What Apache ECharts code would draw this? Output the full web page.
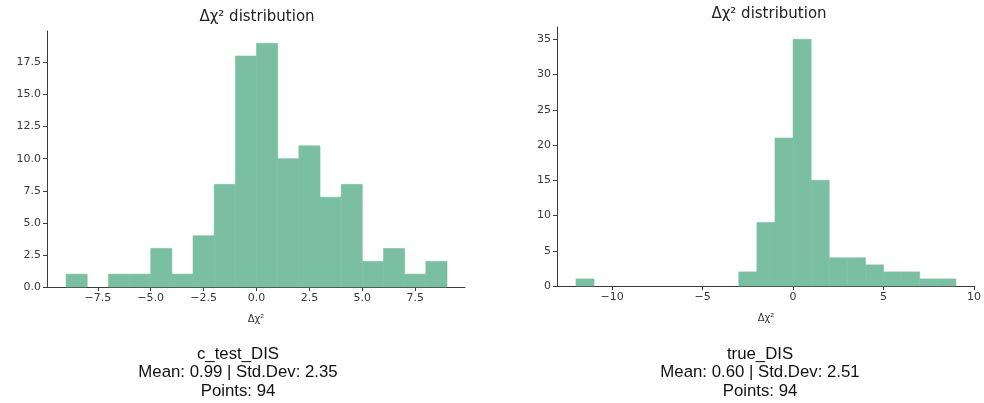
<!DOCTYPE html>
<html><head><meta charset="utf-8">
<script src="https://cdn.jsdelivr.net/npm/echarts@6/dist/echarts.min.js"></script>
<style>html,body{margin:0;padding:0;background:#fff}#c{width:984px;height:403px}</style>
</head><body><div id="c"></div>
<script>
// Left histogram: c_test_DIS (bin left edges, width 1)
const leftBinStarts = [-9,-8,-7,-6,-5,-4,-3,-2,-1,0,1,2,3,4,5,6,7,8];
const leftCounts    = [1,0,1,1,3,1,4,8,18,19,10,11,7,8,2,3,1,2];
// Right histogram: true_DIS
const rightBinStarts = [-12,-11,-10,-9,-8,-7,-6,-5,-4,-3,-2,-1,0,1,2,3,4,5,6,7,8];
const rightCounts    = [1,0,0,0,0,0,0,0,0,2,9,21,35,15,4,4,3,2,2,1,1];
const binWidth = 1;
const leftXTicks = [-7.5,-5,-2.5,0,2.5,5,7.5];
const leftYTicks = [0,2.5,5,7.5,10,12.5,15,17.5];
const rightXTicks = [-10,-5,0,5,10];
const rightYTicks = [0,5,10,15,20,25,30,35];
const titles = ['Δχ² distribution','Δχ² distribution'];
const xName = 'Δχ²';
const leftInfo = ['c_test_DIS','Mean: 0.99 | Std.Dev: 2.35','Points: 94'];
const rightInfo = ['true_DIS','Mean: 0.60 | Std.Dev: 2.51','Points: 94'];

const FONT = 'DejaVu Sans';
const AX = '#3a3a3a';
const BAR = '#7bbfa3';
const minus = v => String(v).replace('-', '\u2212');

function histData(starts, counts){
  return starts.map((s,i)=>[s, s+binWidth, counts[i]]);
}
function renderBar(params, api){
  const lo = api.value(0), hi = api.value(1), c = api.value(2);
  if (!c) return null;
  const p0 = api.coord([lo, c]);
  const p1 = api.coord([hi, 0]);
  return {type:'rect', shape:{x:p0[0], y:p0[1], width:p1[0]-p0[0], height:p1[1]-p0[1]},
          style:{fill:BAR, stroke:BAR, lineWidth:0.6}};
}
function xAxis(idx, min, max, ticks, fmt){
  return {type:'value', gridIndex:idx, min, max,
    name:xName, nameLocation:'middle', nameGap:27,
    nameTextStyle:{fontFamily:FONT, fontSize:10, color:'#333'},
    axisLine:{show:true, onZero:false, lineStyle:{color:AX, width:1}},
    axisTick:{show:true, length:4, customValues:ticks, lineStyle:{color:AX}},
    axisLabel:{customValues:ticks, formatter:fmt, fontFamily:FONT, fontSize:11, color:'#3a3a3a', margin:6},
    splitLine:{show:false}};
}
function yAxis(idx, min, max, ticks, fmt){
  return {type:'value', gridIndex:idx, min, max,
    axisLine:{show:true, onZero:false, lineStyle:{color:AX, width:1}},
    axisTick:{show:true, length:4, customValues:ticks, lineStyle:{color:AX}},
    axisLabel:{customValues:ticks, formatter:fmt, fontFamily:FONT, fontSize:11, color:'#3a3a3a', margin:6},
    splitLine:{show:false}};
}
const infoStyle = {fontFamily:'Liberation Sans', fontSize:16.8, fontWeight:'normal', color:'#111', lineHeight:18.5};
const titleStyle = {fontFamily:FONT, fontSize:15, fontWeight:'normal', color:'#222'};

const chart = echarts.init(document.getElementById('c'), null, {renderer:'canvas'});
chart.setOption({
  animation:false,
  backgroundColor:'#fff',
  title:[
    {text:titles[0], left:252, top:5, textAlign:'center', textStyle:titleStyle},
    {text:titles[1], left:764, top:2, textAlign:'center', textStyle:titleStyle},
    {text:leftInfo.join('\n'), left:233, top:340, textAlign:'center', textStyle:infoStyle},
    {text:rightInfo.join('\n'), left:755, top:340, textAlign:'center', textStyle:infoStyle}
  ],
  grid:[
    {left:47, top:31, width:418, height:256},
    {left:557, top:27, width:423, height:259}
  ],
  xAxis:[
    xAxis(0, -9.9, 9.85, leftXTicks, v=>minus(v.toFixed(1))),
    xAxis(1, -13.05, 10.05, rightXTicks, v=>minus(v))
  ],
  yAxis:[
    yAxis(0, 0, 19.95, leftYTicks, v=>v.toFixed(1)),
    yAxis(1, 0, 36.75, rightYTicks, v=>String(v))
  ],
  series:[
    {type:'custom', xAxisIndex:0, yAxisIndex:0, renderItem:renderBar, data:histData(leftBinStarts,leftCounts), encode:{x:[0,1], y:2}},
    {type:'custom', xAxisIndex:1, yAxisIndex:1, renderItem:renderBar, data:histData(rightBinStarts,rightCounts), encode:{x:[0,1], y:2}}
  ]
});
</script></body></html>
